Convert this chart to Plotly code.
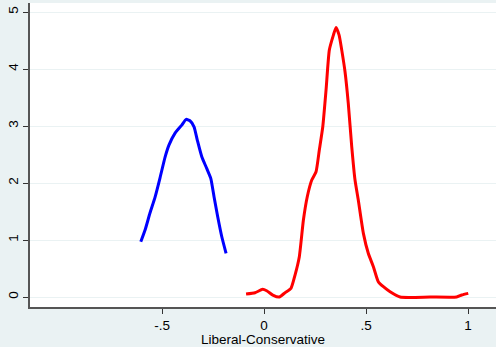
import plotly.graph_objects as go

blue_x = [-0.604, -0.583, -0.559, -0.534, -0.510, -0.485, -0.466, -0.436, -0.403, -0.382,
          -0.363, -0.343, -0.327, -0.305, -0.281, -0.261, -0.245, -0.227, -0.207, -0.186]
blue_y = [0.97, 1.175, 1.474, 1.754, 2.088, 2.456, 2.667, 2.877, 3.018, 3.118,
          3.093, 2.988, 2.754, 2.461, 2.258, 2.082, 1.760, 1.409, 1.058, 0.767]

red_x = [-0.088, -0.044, -0.007, 0.013, 0.043, 0.075, 0.103, 0.132, 0.152, 0.173,
         0.193, 0.212, 0.234, 0.255, 0.271, 0.288, 0.304, 0.320, 0.340, 0.353,
         0.368, 0.381, 0.397, 0.413, 0.430, 0.446, 0.462, 0.487, 0.511, 0.536,
         0.560, 0.585, 0.618, 0.667, 0.814, 0.944, 0.969, 1.001]
red_y = [0.053, 0.076, 0.135, 0.11, 0.035, 0.0, 0.076, 0.152, 0.386, 0.708,
         1.351, 1.760, 2.053, 2.199, 2.579, 2.988, 3.632, 4.333, 4.596, 4.731,
         4.596, 4.333, 3.953, 3.398, 2.637, 2.053, 1.702, 1.117, 0.767, 0.532,
         0.269, 0.181, 0.093, 0.0, 0.0, 0.0, 0.035, 0.064]

x_tickvals = [-0.5, 0, 0.5, 1]
x_ticktext = ["-.5", "0", ".5", "1"]
y_tickvals = [0, 1, 2, 3, 4, 5]
y_ticktext = ["0", "1", "2", "3", "4", "5"]

fig = go.Figure()
fig.add_trace(go.Scatter(x=blue_x, y=blue_y, mode="lines",
                         line=dict(color="#0000ff", width=3, shape="spline", smoothing=0.5),
                         showlegend=False))
fig.add_trace(go.Scatter(x=red_x, y=red_y, mode="lines",
                         line=dict(color="#ff0000", width=3, shape="spline", smoothing=0.5),
                         showlegend=False))

axis_font = dict(family="Liberation Sans, Arial, sans-serif", size=13.5, color="#000000")

fig.update_layout(
    width=496, height=347,
    margin=dict(l=30, r=0, t=3, b=40, autoexpand=False),
    paper_bgcolor="#eaf2f3",
    plot_bgcolor="#ffffff",
    font=axis_font,
    xaxis=dict(range=[-1.147, 1.137], tickvals=x_tickvals, ticktext=x_ticktext,
               showgrid=False, zeroline=False, showline=True, linecolor="#555555",
               linewidth=1.5, ticks="outside", ticklen=5, tickcolor="#333333",
               tickfont=axis_font, automargin=False,
               title=dict(text="Liberal-Conservative", font=axis_font, standoff=0)),
    yaxis=dict(range=[-0.175, 5.16], tickvals=y_tickvals, ticktext=y_ticktext,
               showgrid=True, gridcolor="#eaf2f3", gridwidth=1, zeroline=False,
               showline=True, linecolor="#555555", linewidth=1.5,
               ticks="outside", ticklen=5, tickcolor="#333333", automargin=False,
               tickangle=-90, tickfont=axis_font),
)

fig.write_html("out.html", config={"displayModeBar": False},
               post_script="document.body.style.margin='0';document.body.style.overflow='hidden';")
